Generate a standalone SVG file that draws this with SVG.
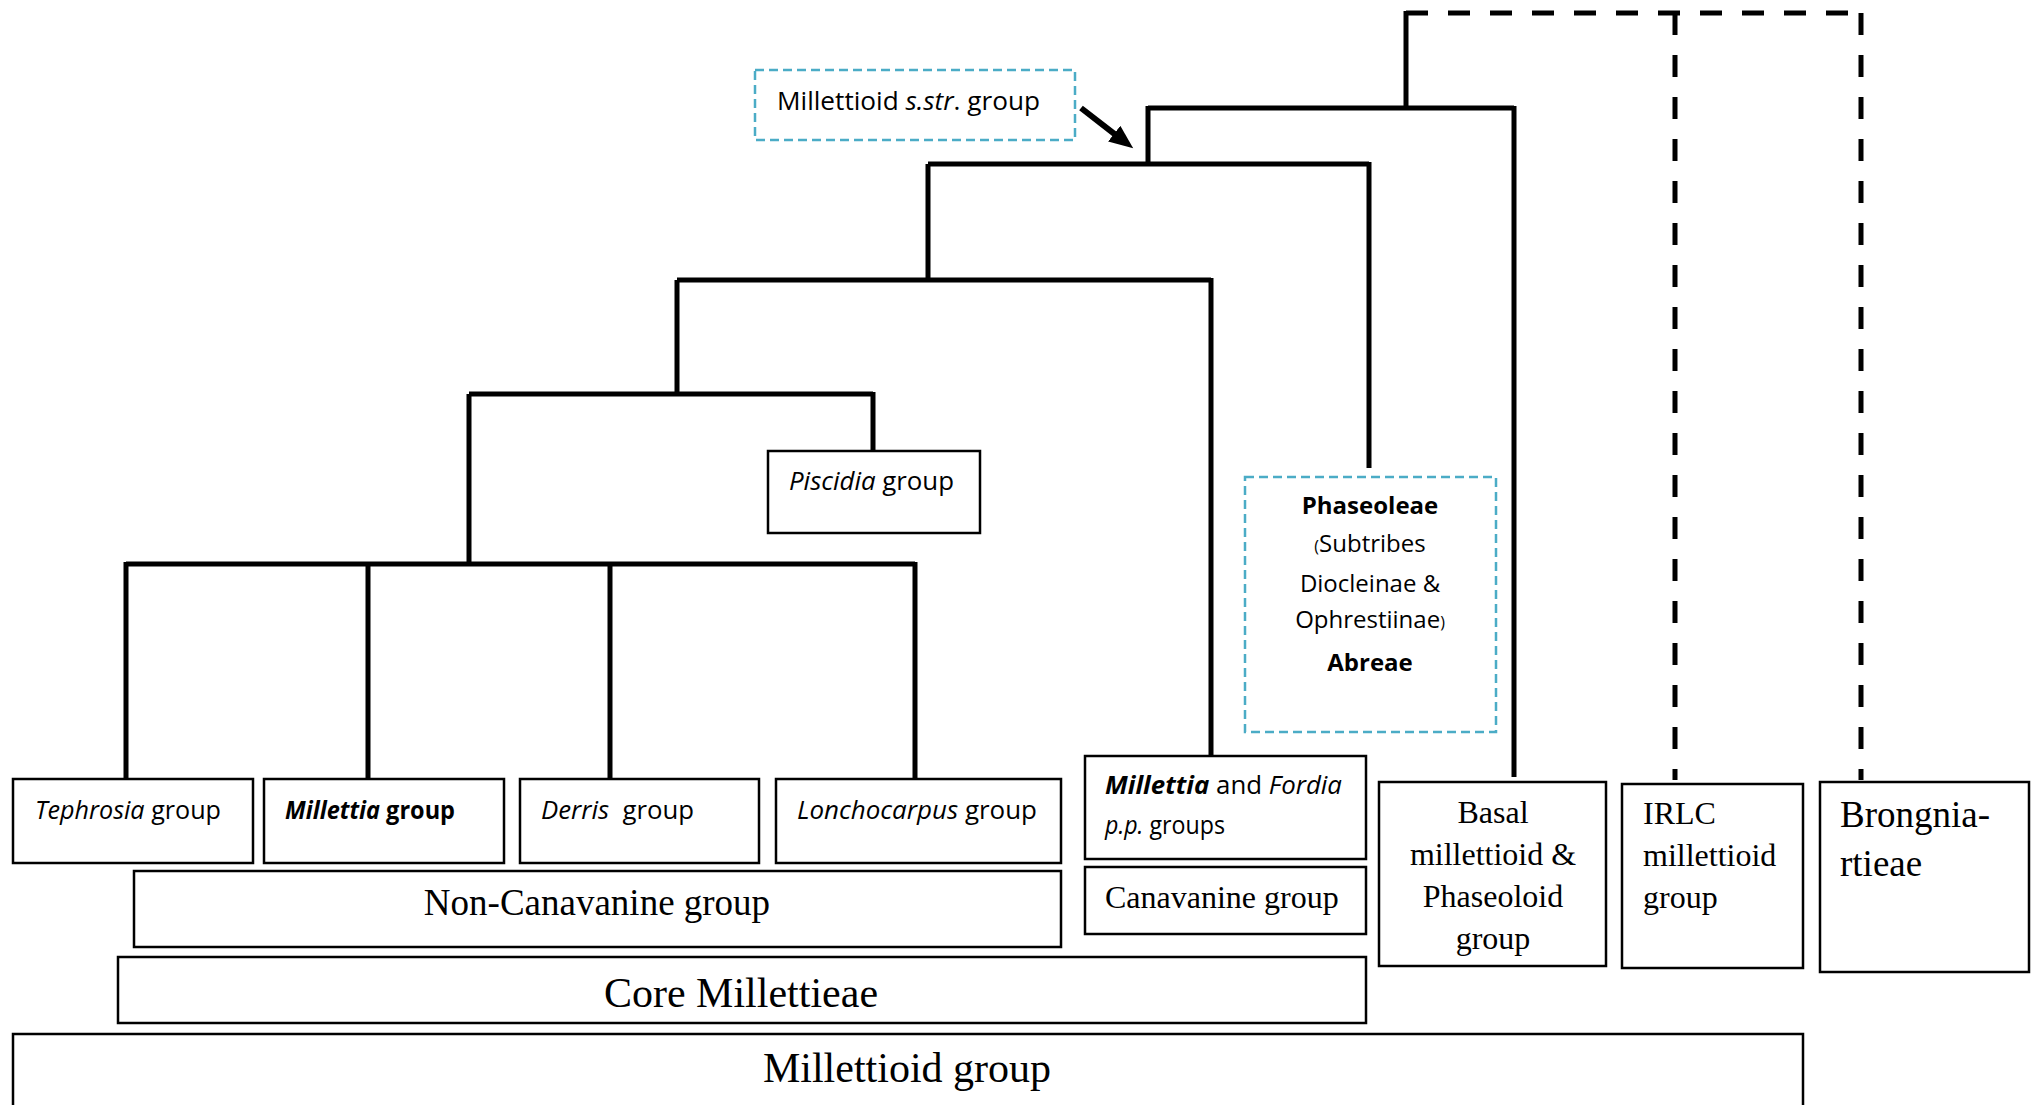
<svg xmlns="http://www.w3.org/2000/svg" width="2038" height="1105" viewBox="0 0 2038 1105">
<style>
.bx{fill:#fff;stroke:#000;stroke-width:2.5}
.bl{fill:none;stroke:#4BACC6;stroke-width:2.5;stroke-dasharray:9 5}
.tr{fill:none;stroke:#000;stroke-width:5;stroke-linecap:butt}
.dl{fill:none;stroke:#000;stroke-width:5;stroke-dasharray:22 20}
.s{font-family:"Open Sans","Noto Sans",sans-serif;font-size:25px;fill:#000}
.m{font-family:"Liberation Serif","Times New Roman",serif;fill:#000}
.i{font-style:italic}
.b{font-weight:bold}
</style>
<defs>
<marker id="ah" markerUnits="userSpaceOnUse" markerWidth="26" markerHeight="22" refX="1" refY="10" orient="auto">
<path d="M0,0 L24,10 L0,20 z" fill="#000"/>
</marker>
</defs>
<rect width="2038" height="1105" fill="#fff"/>

<g id="connectors">
<path class="dl" d="M1406,13 H1861"/>
<path class="dl" d="M1675,13 V780"/>
<path class="dl" d="M1861,13 V780"/>
<path class="tr" stroke-width="4.5" d="M1406,11 V108"/>
<path class="tr" stroke-width="4.5" d="M1148,108 H1514 M1148,106 V164 M1514,106 V777"/>
<path class="tr" stroke-width="4.5" d="M928,164 H1369 M928,164 V280 M1369,162 V468"/>
<path class="tr" d="M677,280 H1211 M677,280 V394 M1211,278 V756"/>
<path class="tr" d="M469,394 H873 M469,394 V564 M873,392 V451"/>
<path class="tr" d="M126,564 H915 M126,562 V779 M368,564 V779 M610,564 V779 M915,562 V779"/>
<line x1="1081" y1="108" x2="1115" y2="134.3" stroke="#000" stroke-width="6" marker-end="url(#ah)"/>
</g>

<g id="node-sstr">
<rect class="bl" x="755" y="70" width="320" height="70"/>
<text class="s" x="777" y="110" textLength="263" lengthAdjust="spacingAndGlyphs">Millettioid <tspan class="i">s.str</tspan>. group</text>
</g>

<g id="node-piscidia">
<rect class="bx" x="768" y="451" width="212" height="82"/>
<text class="s" x="789" y="490" textLength="165" lengthAdjust="spacingAndGlyphs"><tspan class="i">Piscidia</tspan> group</text>
</g>

<g id="node-phaseoleae">
<rect class="bl" x="1245" y="477" width="251" height="255"/>
<g class="s" text-anchor="middle">
<text x="1370" y="514" class="b" font-size="24">Phaseoleae</text>
<text x="1370" y="552" font-size="24"><tspan font-size="16">(</tspan>Subtribes</text>
<text x="1370" y="592" font-size="24">Diocleinae &amp;</text>
<text x="1370" y="628" font-size="24">Ophrestiinae<tspan font-size="16">)</tspan></text>
<text x="1370" y="671" class="b" font-size="24">Abreae</text>
</g>
</g>

<g id="node-tephrosia">
<rect class="bx" x="13" y="779" width="240" height="84"/>
<text class="s" x="35" y="819" textLength="186" lengthAdjust="spacingAndGlyphs"><tspan class="i">Tephrosia</tspan> group</text>
</g>

<g id="node-millettia">
<rect class="bx" x="264" y="779" width="240" height="84"/>
<text class="s b" x="285" y="819" textLength="170" lengthAdjust="spacingAndGlyphs"><tspan class="i">Millettia</tspan> group</text>
</g>

<g id="node-derris">
<rect class="bx" x="520" y="779" width="239" height="84"/>
<text class="s" x="541" y="819" textLength="153" lengthAdjust="spacingAndGlyphs" xml:space="preserve"><tspan class="i">Derris</tspan>  group</text>
</g>

<g id="node-lonchocarpus">
<rect class="bx" x="776" y="779" width="285" height="84"/>
<text class="s" x="797" y="819" textLength="240" lengthAdjust="spacingAndGlyphs"><tspan class="i">Lonchocarpus</tspan> group</text>
</g>

<g id="node-millettia-fordia">
<rect class="bx" x="1085" y="756" width="281" height="103" stroke-width="3"/>
<text class="s" x="1105" y="794" textLength="237" lengthAdjust="spacingAndGlyphs"><tspan class="i b">Millettia</tspan> and <tspan class="i">Fordia</tspan></text>
<text class="s" x="1105" y="834" textLength="120" lengthAdjust="spacingAndGlyphs"><tspan class="i">p.p.</tspan> groups</text>
</g>

<g id="node-canavanine">
<rect class="bx" x="1085" y="867" width="281" height="67" stroke-width="3"/>
<text class="m" x="1105" y="908" font-size="32">Canavanine group</text>
</g>

<g id="node-noncanavanine">
<rect class="bx" x="134" y="871" width="927" height="76" stroke-width="3"/>
<text class="m" x="597" y="915" font-size="37" text-anchor="middle">Non-Canavanine group</text>
</g>

<g id="node-core">
<rect class="bx" x="118" y="957" width="1248" height="66"/>
<text class="m" x="741" y="1007" font-size="42" text-anchor="middle">Core Millettieae</text>
</g>

<g id="node-millettioid">
<rect class="bx" x="13" y="1034" width="1790" height="90" stroke-width="3"/>
<text class="m" x="907" y="1082" font-size="42" text-anchor="middle">Millettioid group</text>
</g>

<g id="node-basal">
<rect class="bx" x="1379" y="782" width="227" height="184" stroke-width="3"/>
<g class="m" font-size="32" text-anchor="middle">
<text x="1493" y="823">Basal</text>
<text x="1493" y="865">millettioid &amp;</text>
<text x="1493" y="907">Phaseoloid</text>
<text x="1493" y="949">group</text>
</g>
</g>

<g id="node-irlc">
<rect class="bx" x="1622" y="784" width="181" height="184" stroke-width="3"/>
<g class="m" font-size="32">
<text x="1643" y="824">IRLC</text>
<text x="1643" y="866">millettioid</text>
<text x="1643" y="908">group</text>
</g>
</g>

<g id="node-brongniartieae">
<rect class="bx" x="1820" y="782" width="209" height="190"/>
<g class="m" font-size="37">
<text x="1840" y="827">Brongnia-</text>
<text x="1840" y="876">rtieae</text>
</g>
</g>
</svg>
